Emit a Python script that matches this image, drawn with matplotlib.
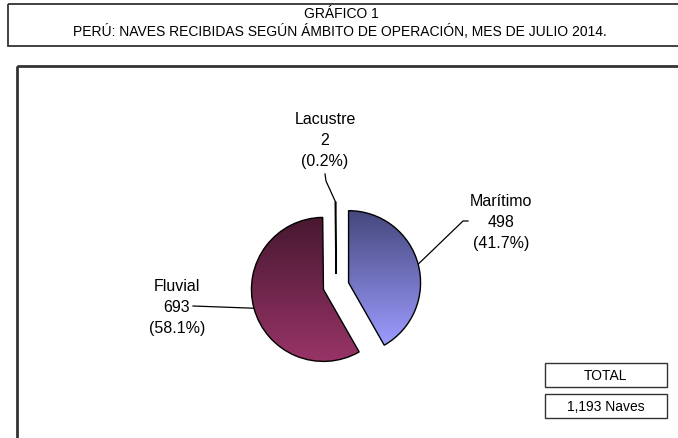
import numpy as np
import matplotlib
matplotlib.use("Agg")
import matplotlib.pyplot as plt
from matplotlib.colors import to_rgb
from matplotlib.patches import Rectangle

plt.rcParams["font.family"] = ["Liberation Sans", "DejaVu Sans"]

# ── Data ──────────────────────────────────────────────────────────────────────
categorias = ["Marítimo", "Fluvial", "Lacustre"]
naves = [498, 693, 2]
total = sum(naves)

titulo = "GRÁFICO 1"
subtitulo = "PERÚ: NAVES RECIBIDAS SEGÚN ÁMBITO DE OPERACIÓN, MES DE JULIO 2014."

# ── Style ─────────────────────────────────────────────────────────────────────
GRAD = {  # (top, bottom) gradient colours
    "Marítimo": ("#45477c", "#9c9cff"),
    "Fluvial": ("#471830", "#983467"),
    "Lacustre": ("#1a1a1a", "#1a1a1a"),
}
EXPLODE = [13, 13, 12]          # in pixels (pie axes is 1 unit = 1 px)
RADIUS = 72
FRAME = "#333333"

W, H = 678, 439
fig = plt.figure(figsize=(W / 100, H / 100), dpi=100)
bg = fig.add_axes([0, 0, 1, 1])
bg.set_xlim(0, W)
bg.set_ylim(H, 0)
bg.axis("off")

# title box
bg.add_patch(Rectangle((8, 5), W, 42, fill=False, lw=1.3, ec=FRAME))
bg.text(341, 14, titulo, ha="center", va="center", fontsize=10)
bg.text(340, 31, subtitulo, ha="center", va="center", fontsize=10)

# chart area frame (runs off the right/bottom edge)
bg.add_patch(Rectangle((17, 67), W, H, fill=False, lw=2, ec=FRAME))

# ── Pie ───────────────────────────────────────────────────────────────────────
cx, cy, span = 336, 287, 100
pax = fig.add_axes([(cx - span) / W, (H - cy - span) / H, 2 * span / W, 2 * span / H])
wedges, _ = pax.pie(naves, radius=RADIUS, startangle=90, counterclock=False,
                    explode=EXPLODE, wedgeprops=dict(ec="black", lw=1.0))

t = np.linspace(0, 1, 256)[:, None]
for w, name in zip(wedges, categorias):
    x0, y0, x1, y1 = w.get_path().get_extents().extents
    top, bot = GRAD[name]
    img = (1 - t) * np.array(to_rgb(top)) + t * np.array(to_rgb(bot))
    im = pax.imshow(img[:, None, :], extent=(x0, x1, y0, y1), origin="upper",
                    aspect="auto", zorder=0.5)
    im.set_clip_path(w)
    w.set_facecolor("none")
    w.set_zorder(1)

pax.set_xlim(-span, span)
pax.set_ylim(-span, span)
pax.set_aspect("auto")
pax.axis("off")

# ── Labels + leader lines ─────────────────────────────────────────────────────
label_pos = {"Marítimo": (501, 202), "Fluvial": (177, 287), "Lacustre": (325, 120)}
leader = {
    "Marítimo": [(463, 222), (468, 222)],
    "Fluvial": [(193, 307)],
    "Lacustre": [(326, 182), (325, 175)],
}
for w, name, v in zip(wedges, categorias, naves):
    th = np.radians((w.theta1 + w.theta2) / 2)
    ax_, ay_ = w.center[0] + w.r * np.cos(th), w.center[1] + w.r * np.sin(th)
    pts = [(cx + ax_, cy - ay_)] + leader[name]
    xs, ys = zip(*pts)
    bg.plot(xs, ys, color="black", lw=0.9)
    lx, ly = label_pos[name]
    for i, s in enumerate([name, f"{v:,}", f"({v / total * 100:.1f}%)"]):
        bg.text(lx, ly + 21 * i, s, ha="center", va="center", fontsize=11.5)

# ── Total boxes ───────────────────────────────────────────────────────────────
for y, s in [(364, "TOTAL"), (395, f"{total:,} Naves")]:
    bg.add_patch(Rectangle((545, y), 122, 24, fill=False, lw=1, ec=FRAME))
    bg.text(606, y + 12, s, ha="center", va="center", fontsize=10)

fig.savefig("out.png", dpi=100)
